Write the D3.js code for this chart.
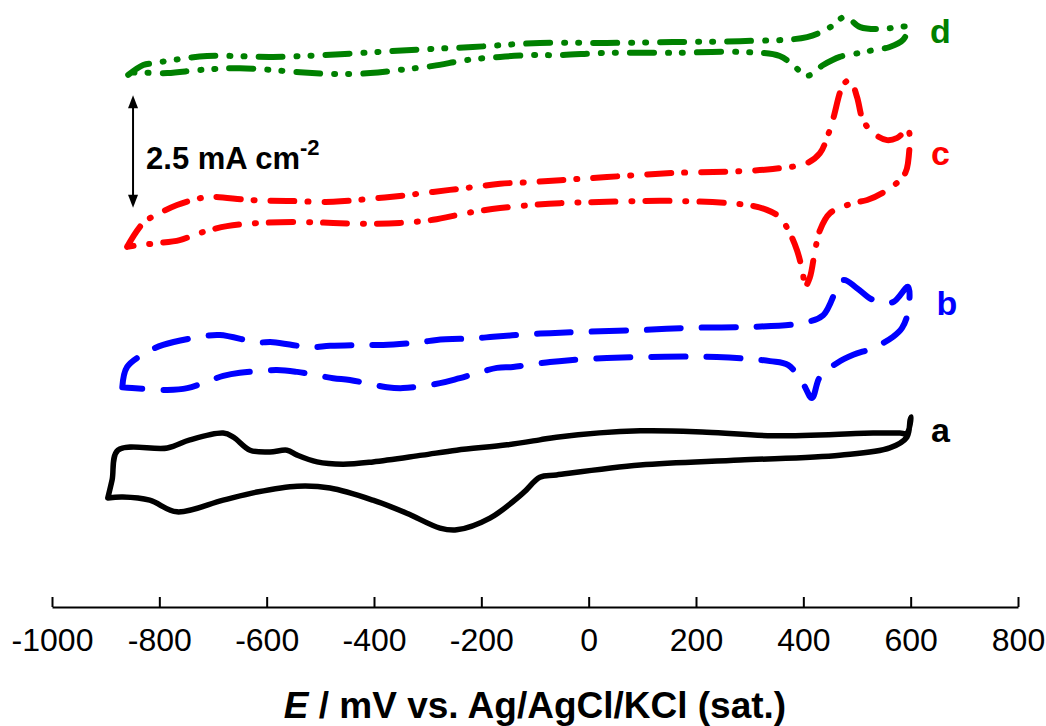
<!DOCTYPE html>
<html><head><meta charset="utf-8">
<script src="https://cdn.jsdelivr.net/npm/d3@7"></script>
<style>
html,body{margin:0;padding:0;background:#fff;}
svg{display:block;font-family:"Liberation Sans",Arial,sans-serif;}
</style></head>
<body>
<svg id="chart" width="1046" height="726"></svg>
<script>
// Potential axis ticks (mV)
const xTicks = [-1000,-800,-600,-400,-200,0,200,400,600,800];

// Curve a (black, solid) — E (mV) and stacked current (mA cm^-2, offset)
const aE = [-896,-868,-818,-767,-681,-618,-543,-482,-402,-339,-277,-246,-184,-122,-91,-60,96,282,468,561,593,599,601,593,580,530,343,220,96,-60,-91,-152,-246,-310,-402,-458,-506,-543,-562,-594,-631,-662,-681,-743,-785,-877,-888,-896];
const aJ = [1.38,1.40,1.33,1.07,1.33,1.51,1.64,1.60,1.33,1.04,0.71,0.67,0.93,1.49,1.84,1.89,2.11,2.22,2.33,2.49,2.73,3.11,3.18,2.82,2.82,2.82,2.76,2.84,2.87,2.73,2.67,2.56,2.44,2.33,2.18,2.13,2.18,2.33,2.44,2.40,2.44,2.73,2.82,2.67,2.49,2.44,1.78,1.38];

// Curve b (blue, dashed)
const bE = [-869,-860,-823,-793,-724,-687,-618,-588,-519,-482,-413,-383,-314,-283,-208,-178,-110,-72,-11,96,194,301,399,437,474,500,530,567,595,595,584,567,530,493,463,431,416,399,372,338,239,34,-35,-72,-141,-171,-240,-277,-346,-376,-445,-476,-543,-581,-650,-681,-748,-786,-851,-869];
const bJ = [3.84,4.29,4.62,4.78,4.96,5.00,4.84,4.84,4.73,4.76,4.78,4.78,4.84,4.89,4.93,4.96,5.02,5.04,5.07,5.11,5.16,5.18,5.27,5.44,6.22,6.04,5.78,5.73,6.07,5.51,5.16,4.96,4.71,4.56,4.38,4.07,3.60,3.93,4.33,4.42,4.51,4.49,4.44,4.40,4.29,4.27,4.04,3.93,3.82,3.84,4.00,4.04,4.18,4.22,4.16,4.09,3.82,3.78,3.82,3.84];

// Curve c (red, dash-dot)
const cE = [-860,-830,-799,-767,-724,-700,-631,-562,-476,-413,-352,-290,-227,-165,-104,-53,34,157,282,343,407,431,444,455,468,474,487,500,511,530,556,575,595,595,590,580,548,519,493,450,431,422,412,403,399,388,372,356,332,295,157,34,-53,-104,-165,-227,-290,-352,-413,-476,-538,-612,-674,-724,-762,-804,-836,-860];
const cJ = [6.96,7.49,7.71,7.89,8.04,8.07,8.00,7.98,7.96,8.02,8.09,8.18,8.27,8.36,8.40,8.44,8.51,8.60,8.64,8.69,8.82,9.04,9.38,9.78,10.38,10.56,10.67,10.29,9.78,9.49,9.33,9.38,9.56,8.82,8.60,8.44,8.16,8.00,7.93,7.71,7.33,6.89,6.27,6.07,6.38,6.89,7.33,7.62,7.78,7.89,7.98,7.96,7.93,7.89,7.82,7.71,7.56,7.49,7.47,7.49,7.51,7.49,7.42,7.27,7.11,7.04,7.00,6.96];

// Curve d (green, dash-dot-dot)
const dE = [-858,-830,-811,-785,-711,-588,-463,-339,-216,-91,34,157,282,407,450,478,506,548,576,595,586,561,530,506,468,437,407,384,356,282,157,34,-53,-104,-165,-227,-290,-352,-407,-476,-538,-650,-724,-785,-854,-858];
const dJ = [10.78,11.00,11.04,11.09,11.20,11.18,11.24,11.33,11.40,11.49,11.49,11.51,11.53,11.62,11.84,12.07,11.84,11.80,11.84,11.84,11.56,11.40,11.33,11.27,11.18,11.00,10.76,10.96,11.20,11.29,11.27,11.27,11.22,11.22,11.18,11.11,10.98,10.89,10.82,10.80,10.84,10.93,10.89,10.82,10.82,10.78];

const curveNames = ["a","b","c","d"];
const curveColors = ["#000000","#0000ff","#ff0000","#008000"];
const curveDash = [null,"34 21","24 13 1 16","24 14 1 13 1 14"];
const labelE = [638,648,638,636];
const labelJ = [2.89,5.7,9.05,11.75];

// Scale bar: 2.5 mA cm^-2
const barE = -849, barTop = 10.33, barSpan = 2.5;

const svg = d3.select("#chart");
const x = d3.scaleLinear().domain([-1000,800]).range([52,1018]);
const y = d3.scaleLinear().domain([0,10]).range([560,110]);

const series = [[aE,aJ],[bE,bJ],[cE,cJ],[dE,dJ]].map(([E,J]) => E.map((e,i)=>[e,J[i]]));
const line = d3.line().x(d=>x(d[0])).y(d=>y(d[1])).curve(d3.curveCatmullRom.alpha(0.5));

svg.append("g").selectAll("path").data(series).join("path")
  .attr("d", line)
  .attr("fill","none")
  .attr("stroke",(d,i)=>curveColors[i])
  .attr("stroke-width",(d,i)=> i===0 ? 5.5 : 6)
  .attr("stroke-linecap","round")
  .attr("stroke-linejoin","round")
  .attr("stroke-dasharray",(d,i)=>curveDash[i]);

// curve labels
svg.append("g").selectAll("text").data(curveNames).join("text")
  .attr("x",(d,i)=>x(labelE[i]))
  .attr("y",(d,i)=>y(labelJ[i]))
  .attr("dy","0.35em")
  .attr("font-size",34).attr("font-weight","bold")
  .attr("fill",(d,i)=>curveColors[i])
  .text(d=>d);

// x axis
const axis = d3.axisBottom(x).tickValues(xTicks).tickFormat(d=>String(d))
  .tickSizeInner(-10).tickSizeOuter(0).tickPadding(21);
const gx = svg.append("g").attr("transform","translate(0,607)").call(axis);
gx.select(".domain").attr("stroke","#000").attr("stroke-width",2);
gx.selectAll(".tick line").attr("stroke","#000").attr("stroke-width",2);
gx.selectAll(".tick text").attr("font-size",32).attr("fill","#000")
  .attr("font-family","'Liberation Sans',Arial,sans-serif");

// axis title
const title = svg.append("text").attr("x",535).attr("y",718)
  .attr("text-anchor","middle").attr("font-size",37).attr("font-weight","bold").attr("fill","#000");
title.append("tspan").attr("font-style","italic").text("E");
title.append("tspan").text(" / mV vs. Ag/AgCl/KCl (sat.)");

// scale bar arrow
const bx = x(barE), by1 = y(barTop), by2 = y(barTop - barSpan);
svg.append("line").attr("x1",bx).attr("x2",bx).attr("y1",by1+6).attr("y2",by2-6)
  .attr("stroke","#000").attr("stroke-width",2);
svg.append("path").attr("d",`M${bx},${by1} L${bx-5},${by1+13} L${bx+5},${by1+13} Z`).attr("fill","#000");
svg.append("path").attr("d",`M${bx},${by2} L${bx-5},${by2-13} L${bx+5},${by2-13} Z`).attr("fill","#000");
const st = svg.append("text").attr("x",bx+13).attr("y",(by1+by2)/2+18)
  .attr("font-size",31).attr("font-weight","bold").attr("fill","#000");
st.append("tspan").text("2.5 mA cm");
st.append("tspan").attr("dy",-14).attr("font-size",22).text("-2");
</script>
</body></html>
